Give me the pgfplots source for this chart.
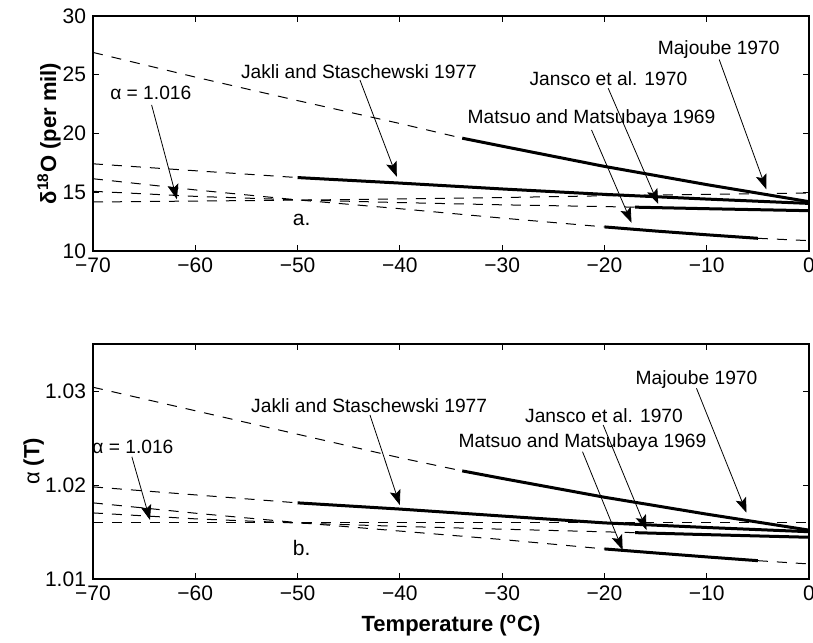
\documentclass[border=0pt]{standalone}
\usepackage{fontspec}
\setmainfont{Liberation Sans}
\usepackage{pgfplots}
\pgfplotsset{compat=1.18}
\usetikzlibrary{arrows.meta}

\newcommand{\annfont}{\fontsize{9.6}{11.5}\selectfont}
\newcommand{\tickfont}{\fontsize{10.5}{12.6}\selectfont}
\newcommand{\labfont}{\fontsize{11}{13.2}\selectfont}

\tikzset{
  dsh/.style={black, line width=0.5pt, dash pattern=on 5pt off 4.5pt},
  sol/.style={black, line width=1.5pt},
  ann/.style={black, line width=0.4pt, -{Stealth[length=7.5pt,width=5.5pt,inset=1.5pt]}},
  lab/.style={font=\annfont, inner sep=0pt, anchor=center},
}

\pgfplotsset{
  myaxis/.style={
    scale only axis, width=358pt, height=117.5pt,
    xmin=-70, xmax=0,
    xtick={-70,-60,-50,-40,-30,-20,-10,0},
    xticklabels={−70,−60,−50,−40,−30,−20,−10,0},
    tick align=inside, tick pos=both,
    major tick length=3pt,
    axis line style={line width=0.8pt},
    tick style={line width=0.5pt, black},
    tick label style={font=\tickfont},
    label style={font=\labfont},
  }
}

\begin{document}
\begin{tikzpicture}
\useasboundingbox (0,0) rectangle (406.5pt,-321pt);

% ---------------- top panel ----------------
\begin{axis}[myaxis,
  at={(46.5pt,-8pt)}, anchor=north west,
  ymin=10, ymax=30,
  ytick={10,15,20,25,30}, yticklabels={10,15,20,25,30},
  ylabel={\bfseries δ\textsuperscript{18}O (per mil)},
  ylabel style={at={(axis description cs:-0.0615,0.5)}, anchor=center},
]
% Majoube 1970
\addplot[dsh] coordinates {(-70,26.9)(-60,24.8)(-50,22.8)(-40,20.85)(-33.9,19.6)};
\addplot[sol] coordinates {(-33.9,19.6)(-30,18.92)(-20,17.2)(-10,15.65)(0,14.2)};
% Jakli and Staschewski 1977
\addplot[dsh] coordinates {(-70,17.42)(-60,16.83)(-50,16.25)};
\addplot[sol] coordinates {(-50,16.25)(-40,15.78)(-30,15.28)(-20,14.82)(-10,14.42)(0,14.05)};
% Jansco et al. 1970
\addplot[dsh] coordinates {(-70,15.08)(-60,14.65)(-50,14.35)(-40,14.12)(-30,13.93)(-20,13.78)(-17,13.73)};
\addplot[sol] coordinates {(-17,13.73)(-10,13.6)(0,13.43)};
% Matsuo and Matsubaya 1969
\addplot[dsh] coordinates {(-70,16.15)(-60,15.2)(-50,14.35)(-40,13.6)(-30,12.8)(-20,12.05)};
\addplot[sol] coordinates {(-20,12.05)(-15,11.7)(-10,11.38)(-5,11.08)};
\addplot[dsh] coordinates {(-5,11.08)(0,10.88)};
% alpha = 1.016
\addplot[dsh] coordinates {(-70,14.17)(-60,14.25)(-50,14.33)(-40,14.43)(-30,14.55)(-20,14.7)(-10,14.82)(0,14.93)};

\node[lab] at (axis cs:-44.0,25.23) {Jakli and Staschewski 1977};
\draw[ann] (axis cs:-43.9,24.55) -- (axis cs:-40.3,16.32);
\node[lab] at (axis cs:-64.35,23.42) {α = 1.016};
\draw[ann] (axis cs:-64.27,22.43) -- (axis cs:-61.8,14.4);
\node[lab] at (axis cs:-21.26,21.29) {Matsuo and Matsubaya 1969};
\draw[ann] (axis cs:-21.26,20.3) -- (axis cs:-17.35,12.41);
\node[lab] at (axis cs:-19.61,24.7) {Jansco et al. 1970};
\draw[ann] (axis cs:-19.63,23.85) -- (axis cs:-14.74,14.0);
\node[lab] at (axis cs:-8.83,27.16) {Majoube 1970};
\draw[ann] (axis cs:-8.78,26.3) -- (axis cs:-4.17,15.25);
\node[font=\tickfont, inner sep=0pt] at (axis cs:-49.6,12.64) {a.};
\end{axis}

% ---------------- bottom panel ----------------
\begin{axis}[myaxis,
  at={(46.5pt,-172pt)}, anchor=north west,
  ymin=1.01, ymax=1.035,
  ytick={1.01,1.02,1.03}, yticklabels={1.01,1.02,1.03},
  ylabel={α \bfseries (T)},
  ylabel style={at={(axis description cs:-0.083,0.5)}, anchor=center},
  xlabel={\bfseries Temperature (\textsuperscript{o}C)},
  xlabel style={at={(axis description cs:0.5,-0.224)}, anchor=base},
]
% Majoube 1970
\addplot[dsh] coordinates {(-70,1.0304)(-60,1.0279)(-50,1.0254)(-40,1.0229)(-33.9,1.0215)};
\addplot[sol] coordinates {(-33.9,1.0215)(-30,1.0207)(-20,1.0187)(-10,1.0169)(0,1.0152)};
% Jakli and Staschewski 1977
\addplot[dsh] coordinates {(-70,1.0198)(-60,1.01895)(-50,1.0181)};
\addplot[sol] coordinates {(-50,1.0181)(-40,1.01744)(-30,1.0167)(-20,1.01597)(-10,1.01548)(0,1.01503)};
% Jansco et al. 1970
\addplot[dsh] coordinates {(-70,1.01703)(-60,1.0164)(-50,1.01595)(-40,1.0156)(-30,1.0153)(-20,1.01502)(-17,1.01493)};
\addplot[sol] coordinates {(-17,1.01493)(-10,1.01472)(0,1.01444)};
% Matsuo and Matsubaya 1969
\addplot[dsh] coordinates {(-70,1.0181)(-60,1.0170)(-50,1.0160)(-40,1.0151)(-30,1.0142)(-20,1.0132)};
\addplot[sol] coordinates {(-20,1.0132)(-15,1.01277)(-10,1.01235)(-5,1.01195)};
\addplot[dsh] coordinates {(-5,1.01195)(0,1.0116)};
% alpha = 1.016
\addplot[dsh] coordinates {(-70,1.016)(0,1.016)};

\node[lab] at (axis cs:-43.0,1.0284) {Jakli and Staschewski 1977};
\draw[ann] (axis cs:-42.92,1.02745) -- (axis cs:-40.0,1.01787);
\node[lab] at (axis cs:-66.1,1.02407) {α = 1.016};
\draw[ann] (axis cs:-66.2,1.0230) -- (axis cs:-64.43,1.01628);
\node[lab] at (axis cs:-22.14,1.0245) {Matsuo and Matsubaya 1969};
\draw[ann] (axis cs:-22.14,1.02354) -- (axis cs:-18.22,1.01309);
\node[lab] at (axis cs:-20.04,1.02734) {Jansco et al. 1970};
\draw[ann] (axis cs:-20.12,1.02638) -- (axis cs:-15.88,1.01521);
\node[lab] at (axis cs:-11.0,1.03124) {Majoube 1970};
\draw[ann] (axis cs:-11.0,1.03029) -- (axis cs:-6.11,1.01705);
\node[font=\tickfont, inner sep=0pt] at (axis cs:-49.6,1.01327) {b.};
\end{axis}
\end{tikzpicture}
\end{document}
